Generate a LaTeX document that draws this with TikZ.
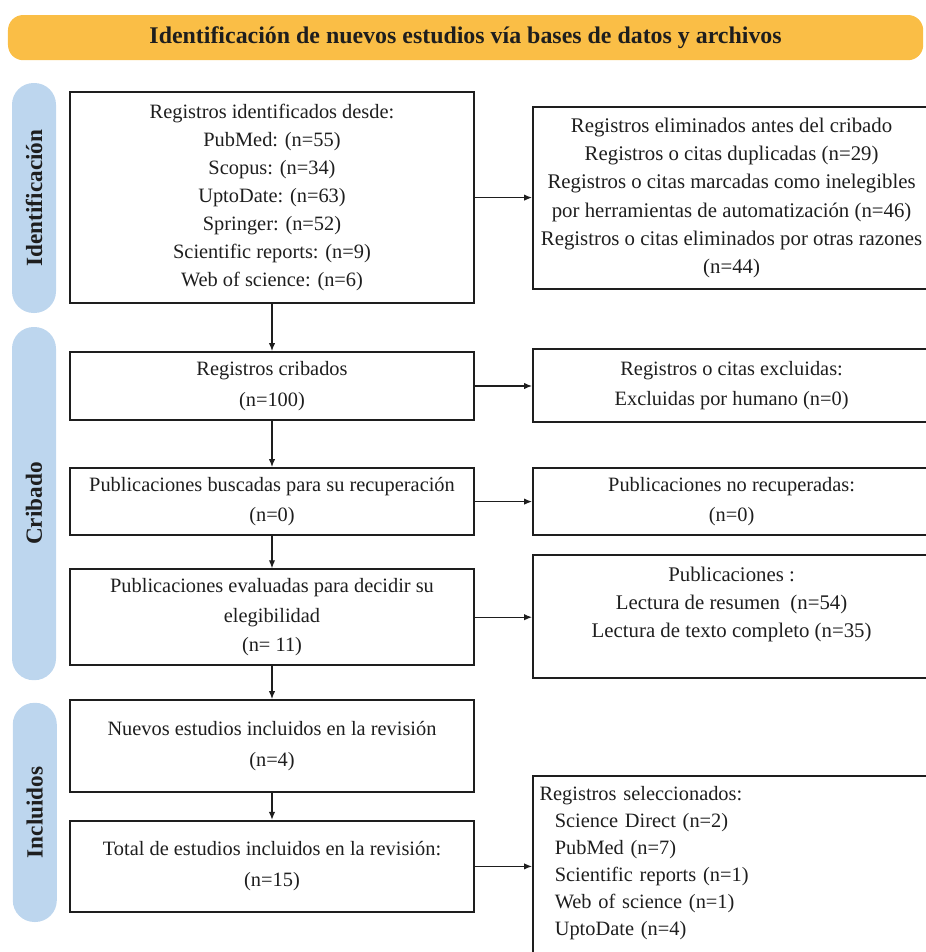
\documentclass[tikz,border=0pt]{standalone}
\usepackage{fontspec}
\setmainfont{Liberation Serif}
\usetikzlibrary{arrows.meta,positioning}
\definecolor{amber}{RGB}{250,190,70}
\definecolor{sky}{RGB}{189,214,238}
\definecolor{ink}{RGB}{30,30,30}
\tikzset{
  >={Latex[length=2mm,width=1.6mm]},
  box/.style={draw=ink,line width=1.3pt,minimum width=#1,align=center,inner sep=2pt,
    font=\fontsize{14.5}{20}\selectfont,text=ink},
  box/.default=10.1cm,
  side box/.style={box=9.93cm,font=\fontsize{14.8}{20}\selectfont},
  stage/.style={fill=sky,rounded corners=0.54cm,rotate=90,minimum height=1.1cm,
    font=\fontsize{16.5}{18}\selectfont\bfseries,text=ink},
  banner/.style={fill=amber,rounded corners=0.38cm,minimum width=22.88cm,minimum height=1.13cm,
    font=\fontsize{17}{20}\selectfont\bfseries,text=ink},
  flow/.style={->,line width=0.9pt,draw=ink},
}
\begin{document}
\begin{tikzpicture}
  \useasboundingbox (0,0) rectangle (23.15,-23.8);
  \clip (0,0) rectangle (23.15,-23.8);
  \node[banner] (title) at (11.64,-0.94) {Identificación de nuevos estudios vía bases de datos y archivos};
  % phases
  \node[stage,minimum width=5.75cm] (ident) at (0.85,-4.95) {Identificación};
  \node[stage,minimum width=8.83cm] (crib) at (0.85,-12.59) {Cribado};
  \node[stage,minimum width=5.48cm] (incl) at (0.87,-20.31) {Incluidos};
  % main column
  \node[box,minimum height=5.28cm] (found) at (6.8,-4.94) {Registros identificados desde:\\PubMed: (n=55)\\Scopus: (n=34)\\UptoDate: (n=63)\\Springer: (n=52)\\Scientific reports: (n=9)\\Web of science: (n=6)};
  \node[box,minimum height=1.70cm,font=\fontsize{14.5}{22}\selectfont] (screened) at (6.8,-9.65) {Registros cribados\\(n=100)};
  \node[box,minimum height=1.68cm,font=\fontsize{14.5}{22}\selectfont] (sought) at (6.8,-12.54) {Publicaciones buscadas para su recuperación\\(n=0)};
  \node[box,minimum height=2.40cm,font=\fontsize{14.5}{21}\selectfont] (assessed) at (6.8,-15.43) {Publicaciones evaluadas para decidir su\\elegibilidad\\(n= 11)};
  \node[box,minimum height=2.30cm,font=\fontsize{14.5}{22}\selectfont] (newinc) at (6.8,-18.65) {Nuevos estudios incluidos en la revisión\\(n=4)};
  \node[box,minimum height=2.28cm,font=\fontsize{14.5}{22}\selectfont] (total) at (6.8,-21.66) {Total de estudios incluidos en la revisión:\\(n=15)};
  % side column
  \node[side box,minimum height=4.55cm] (removed) at (18.29,-4.95) {Registros eliminados antes del cribado\\Registros o citas duplicadas (n=29)\\Registros o citas marcadas como inelegibles\\por herramientas de automatización (n=46)\\Registros o citas eliminados por otras razones\\(n=44)};
  \node[side box,minimum height=1.83cm,font=\fontsize{14.5}{22}\selectfont] (excluded) at (18.29,-9.64) {Registros o citas excluidas:\\Excluidas por humano (n=0)};
  \node[side box,minimum height=1.68cm,font=\fontsize{14.5}{22}\selectfont] (notret) at (18.29,-12.54) {Publicaciones no recuperadas:\\(n=0)};
  \node[side box,minimum height=3.08cm] (reasons) at (18.29,-15.41) {Publicaciones :\\Lectura de resumen~~(n=54)\\Lectura de texto completo (n=35)\\~};
  \node[side box,minimum height=4.6cm,align=left,text width=9.6cm,font=\fontsize{14.5}{19.2}\selectfont] (selected) at (18.29,-21.7) {Registros seleccionados:\\
    \hspace*{0.38cm}Science Direct (n=2)\\
    \hspace*{0.38cm}PubMed (n=7)\\
    \hspace*{0.38cm}Scientific reports (n=1)\\
    \hspace*{0.38cm}Web of science (n=1)\\
    \hspace*{0.38cm}UptoDate (n=4)\\[-0.3cm]~};
  % connectors
  \draw[flow] (found) -- (screened);
  \draw[flow] (screened) -- (sought);
  \draw[flow] (sought) -- (assessed);
  \draw[flow] (assessed) -- (newinc);
  \draw[flow] (newinc) -- (total);
  \draw[flow] (found.east) -- (found.east -| removed.west);
  \draw[flow] (screened.east) -- (screened.east -| excluded.west);
  \draw[flow] (sought.east) -- (sought.east -| notret.west);
  \draw[flow] (assessed.east) -- (assessed.east -| reasons.west);
  \draw[flow] (total.east) -- (total.east -| selected.west);
\end{tikzpicture}
\end{document}
